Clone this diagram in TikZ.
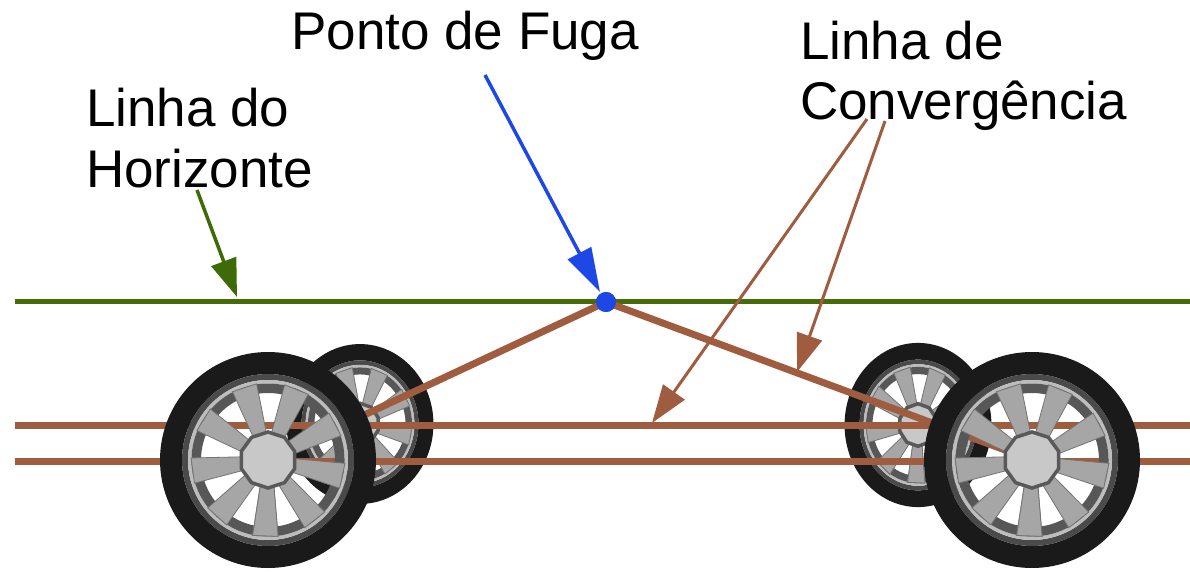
\documentclass[tikz,border=0pt]{standalone}
\usepackage{fontspec}
\setmainfont{Liberation Sans}
\usetikzlibrary{arrows.meta}

\definecolor{horizon}{HTML}{466B0A}
\definecolor{hzarrow}{HTML}{3F6A08}
\definecolor{vpblue}{HTML}{1E48E6}
\definecolor{rod}{HTML}{A05C3E}
\definecolor{tyre}{HTML}{1A1A1A}
\definecolor{wall}{HTML}{4A4A4A}
\definecolor{lip}{HTML}{BDBDBD}
\definecolor{barrel}{HTML}{575757}
\definecolor{spokegray}{HTML}{A6A6A6}
\definecolor{hubgray}{HTML}{C8C8C8}

\tikzset{
  label/.style={anchor=base west, inner sep=0pt, font=\fontsize{53}{60}\selectfont},
  rodline/.style={rod, line width=7pt},
  pointer/.style={line width=3.5pt, -{Triangle[length=38pt,width=26pt]}},
  wheel/.pic={
    % tyre, sidewall, rim lip and barrel
    \fill[tyre, even odd rule] (0,0) circle[radius=108] (0,0) circle[radius=86];
    \fill[wall, even odd rule] (0,0) circle[radius=86] (0,0) circle[radius=80];
    \fill[lip, even odd rule] (0,0) circle[radius=80] (0,0) circle[radius=76.5];
    \fill[barrel, even odd rule] (0,0) circle[radius=76.5] (0,0) circle[radius=67];
    % nine tapered spokes
    \foreach \a in {92,132,...,452}{
      \filldraw[fill=spokegray, draw=black!55, line width=0.8pt]
        (\a-15:26) -- (\a-9.5:77) -- (\a+9.5:77) -- (\a+15:26) -- cycle;
    }
    % hub
    \filldraw[fill=hubgray, draw=black!65, line width=3.5pt]
      (18:28) \foreach \k in {1,...,9}{ -- (18+36*\k:28) } -- cycle;
  }
}

\begin{document}
\begin{tikzpicture}[x=1pt, y=-1pt]
  \useasboundingbox (0,0) rectangle (1190,572);
  \fill[white] (0,0) rectangle (1190,572);

  % anchor points of the drawing
  \coordinate (hzL) at (15,301);
  \coordinate (hzR) at (1190,301);
  \coordinate (upL) at (15,425);
  \coordinate (upR) at (1190,425);
  \coordinate (loL) at (15,461);
  \coordinate (loR) at (1190,461);
  \coordinate (hubL) at (268,460);
  \coordinate (hubR) at (1032,460);

  % horizon line
  \draw[horizon, line width=5pt] (hzL) -- (hzR);

  % rear wheels
  \pic[xscale=0.68, yscale=0.74] at (360,424) {wheel};
  \pic[xscale=0.68, yscale=0.76] at (918,425) {wheel};

  % vanishing point
  \node[circle, fill=vpblue, minimum size=20pt, inner sep=0pt] (vp) at (606,302) {};

  % parallel rods and converging rods
  \draw[rodline] (upL) -- (upR);
  \draw[rodline] (loL) -- (loR);
  \draw[rodline] (vp.center) -- (hubL);
  \draw[rodline] (vp.center) -- (hubR);

  % front wheels
  \pic at (hubL) {wheel};
  \pic at (hubR) {wheel};

  % dot on top of the rods
  \node[circle, fill=vpblue, minimum size=20pt, inner sep=0pt] at (vp) {};

  % labels
  \node[label] (pf) at (291,50) {Ponto de Fuga};
  \node[label] (lh1) at (86,127) {Linha do};
  \node[label] (lh2) at (86,187) {Horizonte};
  \node[label] (lc1) at (800,60) {Linha de};
  \node[label] (lc2) at (800,120) {Convergência};

  % pointer ends
  \coordinate (gS) at (197,190);
  \coordinate (gT) at (237,297);
  \coordinate (bS) at (485,75);
  \coordinate (bT) at (600,292);
  \coordinate (c1S) at (867,119);
  \coordinate (c1T) at (652,423);
  \coordinate (c2S) at (885,121);
  \coordinate (c2T) at (797,372);

  % pointers
  \draw[pointer, hzarrow] (gS) -- (gT);
  \draw[pointer, vpblue, -{Triangle[length=44pt,width=26pt]}] (bS) -- (bT);
  \draw[pointer, rod, line width=3pt] (c1S) -- (c1T);
  \draw[pointer, rod, line width=3pt] (c2S) -- (c2T);
\end{tikzpicture}
\end{document}
